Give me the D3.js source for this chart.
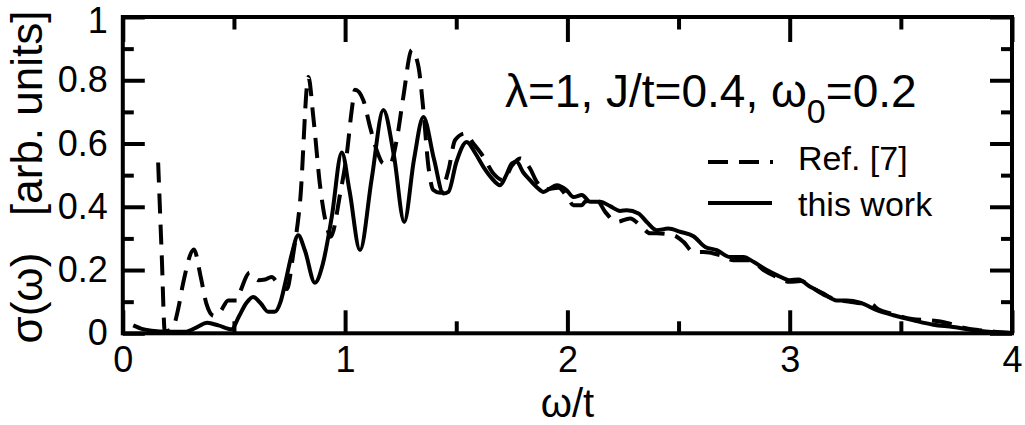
<!DOCTYPE html>
<html>
<head>
<meta charset="utf-8">
<script src="https://cdn.jsdelivr.net/npm/d3@7"></script>
<style>
  html, body { margin: 0; padding: 0; background: #fff; }
  svg { display: block; }
  text { font-family: "Liberation Sans", Arial, Helvetica, sans-serif; fill: #000; }
</style>
</head>
<body>
<svg id="chart" width="1025" height="425"></svg>
<script>
// ---- data ----
const xTickValues = [0, 1, 2, 3, 4];
const xMinorTicks = [0.5, 1.5, 2.5, 3.5];
const yTickValues = [0, 0.2, 0.4, 0.6, 0.8, 1];
const yMinorTicks = [0.1, 0.3, 0.5, 0.7, 0.9];
const seriesNames = ["Ref. [7]", "this work"];
const annotationMain = "λ=1, J/t=0.4, ω";
const annotationSub = "0";
const annotationTail = "=0.2";
const xTitle = "ω/t";
const yTitle = "σ(ω)   [arb. units]";

// "this work" (solid)
const omegaWork = [0.047,0.09,0.13,0.2,0.28,0.33,0.38,0.43,0.49,0.52,0.555,0.586,0.62,0.654,0.683,0.71,0.73,0.76,0.789,0.82,0.864,0.9,0.94,0.985,1.02,1.067,1.12,1.172,1.22,1.266,1.31,1.352,1.40,1.442,1.465,1.50,1.547,1.585,1.622,1.66,1.697,1.725,1.75,1.772,1.80,1.832,1.865,1.892,1.922,1.952,1.997,2.027,2.065,2.102,2.147,2.192,2.237,2.267,2.32,2.357,2.402,2.454,2.507,2.567,2.62,2.672,2.732,2.792,2.837,2.897,2.942,3.0,3.04,3.092,3.152,3.212,3.257,3.317,3.392,3.467,3.557,3.646,3.736,3.826,3.916,3.99];
const sigmaWork = [0.025,0.013,0.008,0.005,0.005,0.018,0.033,0.025,0.013,0.05,0.095,0.115,0.095,0.068,0.068,0.1,0.157,0.25,0.31,0.26,0.16,0.22,0.368,0.572,0.45,0.263,0.49,0.706,0.56,0.352,0.55,0.684,0.55,0.442,0.447,0.54,0.605,0.57,0.526,0.49,0.468,0.5,0.537,0.542,0.51,0.484,0.46,0.447,0.458,0.468,0.452,0.431,0.437,0.416,0.416,0.402,0.387,0.389,0.379,0.352,0.326,0.331,0.321,0.307,0.273,0.263,0.241,0.241,0.226,0.2,0.184,0.168,0.17,0.147,0.126,0.104,0.104,0.097,0.073,0.057,0.041,0.027,0.02,0.0095,0.004,0.001];

// "Ref. [7]" (dashed)
const omegaRef = [0.159,0.175,0.189,0.226,0.25,0.271,0.32,0.35,0.376,0.41,0.44,0.474,0.513,0.53,0.571,0.609,0.64,0.669,0.706,0.738,0.767,0.798,0.835,0.857,0.888,0.918,0.935,0.978,1.008,1.03,1.045,1.082,1.112,1.142,1.172,1.202,1.232,1.262,1.3,1.33,1.352,1.375,1.397,1.427,1.465,1.495,1.54,1.577,1.622,1.667,1.712,1.75,1.787,1.832,1.862,1.9,1.96,2.0,2.027,2.065,2.08,2.132,2.17,2.222,2.282,2.335,2.372,2.402,2.477,2.522,2.567,2.612,2.687,2.747,2.822,2.882,2.942,3.0,3.05,3.1,3.16,3.22,3.27,3.32,3.362,3.4,3.46,3.55,3.63,3.707,3.78,3.85,3.92,3.99];
const sigmaRef = [0.54,0.25,0.005,0.02,0.08,0.157,0.265,0.18,0.094,0.055,0.07,0.104,0.104,0.135,0.192,0.168,0.17,0.178,0.15,0.14,0.252,0.421,0.81,0.684,0.463,0.336,0.305,0.442,0.569,0.706,0.77,0.737,0.653,0.579,0.537,0.535,0.611,0.748,0.896,0.843,0.706,0.526,0.453,0.444,0.516,0.611,0.632,0.6,0.558,0.505,0.484,0.53,0.553,0.521,0.479,0.455,0.46,0.43,0.405,0.405,0.416,0.421,0.384,0.352,0.363,0.336,0.316,0.316,0.31,0.289,0.257,0.257,0.247,0.231,0.231,0.2,0.178,0.163,0.165,0.145,0.12,0.105,0.1,0.095,0.094,0.075,0.062,0.045,0.041,0.033,0.018,0.01,0.005,0.002];

// ---- layout ----
const L = 122.8, R = 1012, T = 17, B = 333.3;
const svg = d3.select("#chart");
svg.append("rect").attr("width", 1025).attr("height", 425).attr("fill", "#fff");

const x = d3.scaleLinear().domain([0, 4]).range([L, R]);
const y = d3.scaleLinear().domain([0, 1]).range([B, T]);

const fmt = d3.format("~g");
const SW = 4;

function styleAxis(g, fontSize) {
  g.select(".domain").remove();
  g.selectAll(".tick line").attr("stroke", "#000").attr("stroke-width", SW);
  g.selectAll(".tick text").style("font-family", '"Liberation Sans", Arial, sans-serif')
    .style("font-size", fontSize + "px").attr("fill", "#000");
}

// bottom axis: labels + major ticks (inward)
svg.append("g").attr("transform", `translate(0,${B})`)
  .call(d3.axisBottom(x).tickValues(xTickValues).tickFormat(fmt).tickSize(-23).tickPadding(13))
  .call(g => styleAxis(g, 36));
svg.append("g").attr("transform", `translate(0,${B})`)
  .call(d3.axisBottom(x).tickValues(xMinorTicks).tickFormat("").tickSize(-12))
  .call(g => styleAxis(g, 36));
// top axis (mirror)
svg.append("g").attr("transform", `translate(0,${T})`)
  .call(d3.axisTop(x).tickValues(xTickValues).tickFormat("").tickSize(-25))
  .call(g => styleAxis(g, 36));
svg.append("g").attr("transform", `translate(0,${T})`)
  .call(d3.axisTop(x).tickValues(xMinorTicks).tickFormat("").tickSize(-12.5))
  .call(g => styleAxis(g, 36));
// left axis
svg.append("g").attr("transform", `translate(${L},0)`)
  .call(d3.axisLeft(y).tickValues(yTickValues).tickFormat(fmt).tickSize(-22).tickPadding(15))
  .call(g => styleAxis(g, 36))
  .call(g => g.selectAll(".tick text").filter(d => d === 1).attr("y", 4));
svg.append("g").attr("transform", `translate(${L},0)`)
  .call(d3.axisLeft(y).tickValues(yMinorTicks).tickFormat("").tickSize(-11))
  .call(g => styleAxis(g, 36));
// right axis (mirror)
svg.append("g").attr("transform", `translate(${R},0)`)
  .call(d3.axisRight(y).tickValues(yTickValues).tickFormat("").tickSize(-22))
  .call(g => styleAxis(g, 36));
svg.append("g").attr("transform", `translate(${R},0)`)
  .call(d3.axisRight(y).tickValues(yMinorTicks).tickFormat("").tickSize(-11))
  .call(g => styleAxis(g, 36));

// frame
svg.append("rect").attr("x", L).attr("y", T).attr("width", R - L).attr("height", B - T)
  .attr("fill", "none").attr("stroke", "#000").attr("stroke-width", SW);

// curves
const line = d3.line().x(d => x(d[0])).y(d => y(d[1])).curve(d3.curveMonotoneX);
const refData = omegaRef.map((w, i) => [w, sigmaRef[i]]);
const workData = omegaWork.map((w, i) => [w, sigmaWork[i]]);

svg.append("path").datum(refData).attr("d", line)
  .attr("fill", "none").attr("stroke", "#000").attr("stroke-width", SW)
  .attr("stroke-dasharray", "20,11").attr("stroke-linejoin", "round");
svg.append("path").datum(workData).attr("d", line)
  .attr("fill", "none").attr("stroke", "#000").attr("stroke-width", SW)
  .attr("stroke-linejoin", "round");

// annotation
const ann = svg.append("text").attr("x", 505).attr("y", 107).style("font-size", "46px");
ann.append("tspan").text(annotationMain);
ann.append("tspan").attr("dy", 16).style("font-size", "34px").text(annotationSub);
ann.append("tspan").attr("dy", -16).text(annotationTail);

// legend
const legend = svg.append("g");
legend.append("line").attr("x1", 708).attr("x2", 773).attr("y1", 162).attr("y2", 162)
  .attr("stroke", "#000").attr("stroke-width", SW).attr("stroke-dasharray", "20,11");
legend.append("text").attr("x", 798).attr("y", 170).style("font-size", "34px").text(seriesNames[0]);
legend.append("line").attr("x1", 708).attr("x2", 772).attr("y1", 203).attr("y2", 203)
  .attr("stroke", "#000").attr("stroke-width", SW);
legend.append("text").attr("x", 798).attr("y", 216).style("font-size", "34px").text(seriesNames[1]);

// axis titles
svg.append("text").attr("x", x(2)).attr("y", 416.5).attr("text-anchor", "middle")
  .style("font-size", "40px").text(xTitle);
svg.append("text").attr("transform", "translate(42,177) rotate(-90)")
  .attr("text-anchor", "middle").style("font-size", "44px").style("white-space", "pre")
  .text(yTitle);
</script>
</body>
</html>
